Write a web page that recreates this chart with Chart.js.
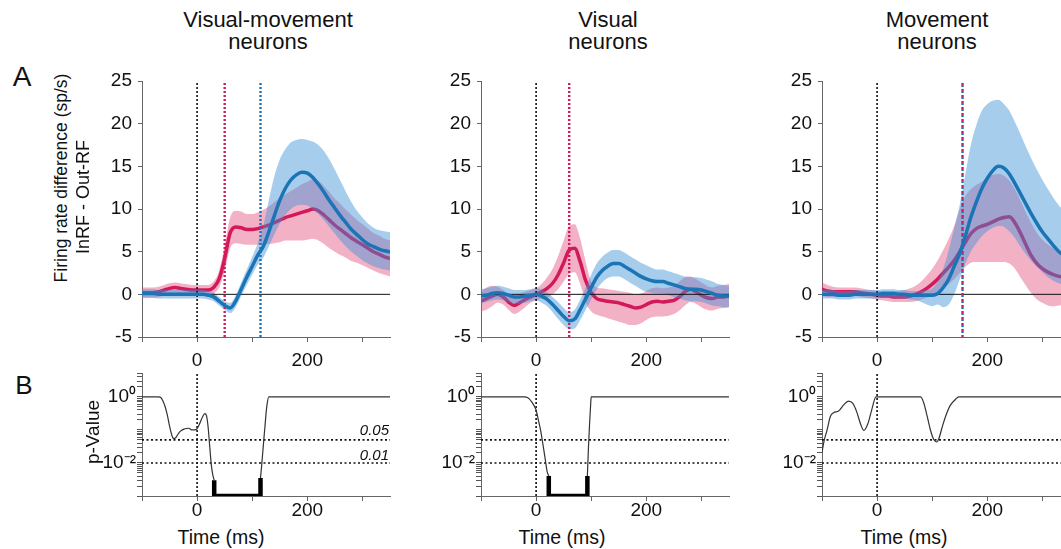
<!DOCTYPE html>
<html><head><meta charset="utf-8">
<script src="https://cdn.jsdelivr.net/npm/chart.js@4.4.0/dist/chart.umd.min.js"></script>
<style>
html,body{margin:0;padding:0;width:1061px;height:549px;overflow:hidden;background:#fff;font-family:"Liberation Sans",Arial,sans-serif;color:#111}
canvas{position:absolute}
.t{position:absolute;white-space:nowrap;line-height:1}
.c{transform:translateX(-50%)}
.r{transform:translate(-50%,-50%) rotate(-90deg)}
</style></head><body>
<canvas id="a1" width="318" height="316" style="left:92px;top:61px"></canvas>
<canvas id="a2" width="318" height="316" style="left:431px;top:61px"></canvas>
<canvas id="a3" width="318" height="316" style="left:772px;top:61px"></canvas>
<canvas id="b1" width="318" height="173" style="left:92px;top:353px"></canvas>
<canvas id="b2" width="318" height="173" style="left:431px;top:353px"></canvas>
<canvas id="b3" width="318" height="173" style="left:772px;top:353px"></canvas>

<div class="t c" style="left:268px;top:9px;font-size:22px">Visual-movement</div>
<div class="t c" style="left:268px;top:31px;font-size:22px">neurons</div>
<div class="t c" style="left:608px;top:9px;font-size:22px">Visual</div>
<div class="t c" style="left:608px;top:31px;font-size:22px">neurons</div>
<div class="t c" style="left:937px;top:9px;font-size:22px">Movement</div>
<div class="t c" style="left:937px;top:31px;font-size:22px">neurons</div>

<div class="t c" style="left:22px;top:63px;font-size:28px">A</div>
<div class="t c" style="left:24px;top:372px;font-size:26px">B</div>

<div class="t r" style="left:62px;top:178px;font-size:17.5px">Firing rate difference (sp/s)</div>
<div class="t r" style="left:83px;top:197px;font-size:18px">InRF - Out-RF</div>
<div class="t r" style="left:92px;top:432px;font-size:19px">p-Value</div>

<div class="t c" style="left:221px;top:528px;font-size:19.5px">Time (ms)</div>
<div class="t c" style="left:562px;top:528px;font-size:19.5px">Time (ms)</div>
<div class="t c" style="left:904px;top:528px;font-size:19.5px">Time (ms)</div>

<div class="t" style="right:672px;top:422px;font-size:15px;font-style:italic">0.05</div>
<div class="t" style="right:672px;top:447px;font-size:15px;font-style:italic">0.01</div>

<script>
// ---------- data ----------
const T = [-100,-90,-80,-70,-60,-50,-40,-30,-20,-10,0,10,20,30,40,50,60,70,80,90,100,110,120,130,140,150,160,170,180,190,200,210,220,230,240,250,260,270,280,290,300,310,320,330,340,350];

// Visual-movement neurons
const vmPinkMean = [0.2,0.2,0.2,0.3,0.5,0.7,0.8,0.7,0.6,0.5, 0.5,0.5,0.5,0.8,1.8,4.2,7.2,7.9,7.8,7.6, 7.6,7.7,7.9,8.1,8.4,8.7,9.0,9.2,9.4,9.6, 9.8,10.0,9.8,9.3,8.7,8.1,7.6,7.1,6.6,6.2, 5.8,5.4,5.0,4.7,4.4,4.2];
const vmPinkLo = [-0.4,-0.4,-0.4,-0.3,-0.1,0.1,0.2,0.1,0.0,-0.1, -0.1,-0.1,-0.1,0.1,0.8,2.7,5.4,6.0,5.9,5.8, 5.8,5.8,5.9,5.9,6.0,6.1,6.3,6.3,6.3,6.3, 6.4,6.5,6.3,5.9,5.4,5.0,4.6,4.3,3.9,3.7, 3.4,3.1,2.8,2.5,2.3,2.1];
const vmPinkHi = [0.8,0.8,0.8,0.9,1.1,1.3,1.4,1.3,1.2,1.1, 1.1,1.1,1.1,1.5,2.8,5.7,9.0,9.8,9.7,9.4, 9.4,9.6,9.9,10.3,10.8,11.3,11.7,12.1,12.5,12.9, 13.2,13.5,13.3,12.7,12.0,11.2,10.6,9.9,9.3,8.7, 8.2,7.7,7.2,6.9,6.5,6.3];
const vmBlueMean = [0.1,0.1,0.1,0.0,0.0,0.0,0.0,0.0,0.0,0.0, 0.0,0.0,-0.1,-0.3,-0.8,-1.3,-1.6,-0.8,0.6,2.0, 3.3,4.6,5.6,7.3,9.2,11.0,12.4,13.4,14.0,14.3, 14.2,13.7,12.9,12.0,11.0,10.1,9.2,8.4,7.6,7.0, 6.4,5.9,5.6,5.3,5.1,5.0];
const vmBlueLo = [-0.4,-0.4,-0.4,-0.5,-0.5,-0.5,-0.5,-0.5,-0.5,-0.5, -0.5,-0.5,-0.6,-0.8,-1.3,-1.8,-2.2,-1.5,-0.2,1.1, 2.3,3.5,4.3,5.6,7.0,8.3,9.3,10.0,10.4,10.5, 10.4,10.0,9.4,8.7,7.9,7.1,6.3,5.6,5.0,4.5, 4.0,3.6,3.3,3.1,2.9,2.8];
const vmBlueHi = [0.6,0.6,0.6,0.5,0.5,0.5,0.5,0.5,0.5,0.5, 0.5,0.5,0.4,0.2,-0.3,-0.8,-1.0,-0.1,1.4,2.9, 4.4,6.0,8.0,11.0,13.8,15.8,17.0,17.8,18.1,18.2, 18.1,17.9,17.5,16.8,15.8,14.6,13.3,12.0,10.8,9.8, 9.0,8.3,7.8,7.5,7.4,7.3];
const vmMarkers = [0, 50, 115];

// Visual neurons
const visPinkMean = [-0.8,-0.5,-0.2,0.0,-0.3,-0.9,-1.3,-1.0,-0.6,-0.3, 0.0,0.3,0.7,1.3,2.3,3.7,5.2,5.4,3.8,1.6, 0.2,-0.5,-0.7,-0.8,-0.9,-1.0,-1.2,-1.4,-1.6,-1.5, -1.2,-0.9,-0.8,-0.9,-0.8,-0.7,-0.3,0.3,0.6,0.3, -0.1,-0.4,-0.5,-0.3,-0.3,-0.2];
const visPinkLo = [-2.0,-1.8,-1.4,-1.0,-1.2,-1.8,-2.3,-2.0,-1.5,-1.0, -0.7,-0.5,-0.4,0.0,0.6,1.5,2.4,2.6,1.2,-1.0, -2.0,-2.4,-2.6,-2.8,-3.0,-3.2,-3.4,-3.6,-3.6,-3.4, -3.0,-2.7,-2.6,-2.6,-2.5,-2.3,-1.9,-1.3,-0.9,-1.1, -1.5,-1.8,-1.9,-1.7,-1.6,-1.5];
const visPinkHi = [0.3,0.8,1.0,0.9,0.5,0.0,-0.3,0.0,0.3,0.5, 0.7,1.2,2.0,3.0,4.5,6.3,8.0,8.2,6.5,3.8, 1.5,0.8,0.7,0.6,0.5,0.4,0.3,0.2,0.0,0.1, 0.4,0.7,0.8,0.7,0.8,1.0,1.5,2.0,2.1,1.8, 1.4,1.0,0.8,1.0,1.1,1.2];
const visBlueMean = [-0.2,-0.1,0.1,0.2,0.1,-0.1,-0.3,-0.3,-0.2,-0.1, 0.0,-0.2,-0.6,-1.2,-1.9,-2.6,-3.1,-2.9,-1.8,-0.5, 0.8,2.0,2.8,3.3,3.6,3.6,3.3,2.9,2.5,2.1, 1.8,1.6,1.5,1.5,1.3,1.1,0.9,0.7,0.6,0.6, 0.5,0.3,0.1,-0.1,-0.2,-0.2];
const visBlueLo = [-1.0,-0.9,-0.7,-0.6,-0.7,-0.9,-1.1,-1.1,-1.0,-0.8, -0.7,-1.0,-1.4,-2.1,-2.9,-3.6,-4.1,-4.0,-3.0,-1.8, -0.6,0.6,1.4,1.9,2.1,2.1,1.8,1.4,1.0,0.6, 0.3,0.2,0.1,0.1,-0.1,-0.3,-0.5,-0.7,-0.8,-0.8, -0.9,-1.1,-1.3,-1.4,-1.5,-1.5];
const visBlueHi = [0.6,0.7,0.9,1.0,0.9,0.7,0.5,0.5,0.5,0.6, 0.7,0.6,0.2,-0.3,-0.9,-1.6,-2.1,-1.8,-0.6,0.8, 2.3,3.6,4.4,4.9,5.2,5.2,4.9,4.5,4.1,3.7, 3.4,3.1,2.9,2.9,2.7,2.5,2.3,2.1,2.0,2.0, 1.9,1.7,1.5,1.2,1.1,1.0];
const visMarkers = [0, 60];

// Movement neurons
const movPinkMean = [0.6,0.4,0.3,0.3,0.3,0.3,0.3,0.2,0.1,0.0, -0.1,-0.2,-0.2,-0.3,-0.3,-0.3,-0.2,0.0,0.3,0.7, 1.2,1.8,2.5,3.2,4.0,5.0,6.1,7.1,7.7,8.0, 8.2,8.5,8.8,9.0,9.1,8.4,7.2,5.8,4.5,3.6, 3.0,2.6,2.3,2.1,2.0,1.9];
const movPinkLo = [-0.2,-0.3,-0.3,-0.3,-0.3,-0.2,-0.2,-0.3,-0.4,-0.5, -0.6,-0.7,-0.8,-0.9,-0.9,-0.9,-0.9,-0.8,-0.6,-0.4, -0.2,0.2,0.7,1.2,1.8,2.5,3.2,3.7,3.8,3.8, 3.8,3.8,3.8,3.8,3.6,3.0,2.0,1.0,0.1,-0.6, -1.0,-1.3,-1.4,-1.3,-1.2,-1.1];
const movPinkHi = [1.4,1.1,0.9,0.8,0.8,0.8,0.8,0.7,0.6,0.5, 0.4,0.4,0.4,0.4,0.4,0.5,0.7,1.0,1.5,2.2, 3.0,4.0,5.2,6.5,8.0,10.0,11.5,12.3,12.8,13.2, 13.7,14.0,14.1,13.9,13.3,12.3,11.0,9.6,8.3,7.2, 6.4,5.8,5.4,5.1,5.0,4.9];
const movBlueMean = [0.0,0.0,0.0,-0.1,-0.1,-0.1,0.0,0.0,0.0,0.0, 0.0,0.1,0.1,0.1,0.0,0.0,-0.1,-0.1,-0.1,-0.1, -0.1,0.1,0.8,1.8,3.3,4.8,6.8,9.0,10.8,12.4, 13.6,14.5,15.0,14.8,14.1,13.0,11.8,10.6,9.4,8.3, 7.3,6.5,5.7,5.0,4.5,4.0];
const movBlueLo = [-0.5,-0.5,-0.5,-0.6,-0.6,-0.6,-0.5,-0.5,-0.5,-0.5, -0.5,-0.4,-0.4,-0.4,-0.5,-0.5,-0.6,-0.7,-0.9,-1.2, -1.4,-1.2,-1.5,-1.2,0.0,1.8,3.6,5.0,6.0,6.8, 7.4,7.8,8.0,7.9,7.4,6.6,5.6,4.7,3.9,3.2, 2.6,2.0,1.6,1.3,1.1,0.9];
const movBlueHi = [0.5,0.5,0.5,0.4,0.4,0.4,0.5,0.5,0.5,0.5, 0.5,0.6,0.6,0.6,0.5,0.5,0.4,0.4,0.4,0.5, 0.7,1.5,3.0,5.2,7.8,10.5,14.0,17.5,19.8,21.5, 22.3,22.7,22.8,22.3,21.5,20.2,18.8,17.3,15.9,14.6, 13.4,12.3,11.3,10.4,9.7,9.2];
const movMarkers = [0, 155];

// p-values (B)
const vmPT  = [-100,-70,-66,-62,-58,-54,-50,-46,-43,-40,-36,-32,-28,-24,-20,-15,-10,-5,0,5,10,14,17,20,23,26,29,31];
const vmPV  = [1,1,0.95,0.75,0.5,0.28,0.13,0.07,0.055,0.056,0.068,0.085,0.098,0.105,0.11,0.112,0.1,0.1,0.11,0.16,0.25,0.31,0.27,0.12,0.03,0.008,0.004,0.003];
const vmPT2 = [115,117,119,121,123,125,127,130,350];
const vmPV2 = [0.0035,0.008,0.02,0.05,0.12,0.3,0.6,1,1];
const vmSigT = [31,31,115,115];
const vmSigV = [0.003,0.001,0.001,0.0035];

const visPT  = [-100,-20,-16,-12,-8,-4,0,4,8,12,16,20,23];
const visPV  = [1,1,0.95,0.85,0.7,0.55,0.4,0.2,0.1,0.04,0.015,0.0055,0.004];
const visPT2 = [93,95,97,99,100,350];
const visPV2 = [0.004,0.03,0.15,0.6,1,1];
const visSigT = [23,23,93,93];
const visSigV = [0.004,0.001,0.001,0.004];

const movPT = [-100,-96,-91,-85,-79,-70,-61,-52,-44,-37,-30,-24,-17,-10,-2,0,79,85,91,97,103,108,112,118,124,133,142,148,350];
const movPV = [0.021,0.048,0.096,0.25,0.33,0.37,0.56,0.74,0.63,0.35,0.15,0.096,0.15,0.39,1,1,1,0.63,0.25,0.096,0.05,0.043,0.054,0.12,0.25,0.56,0.83,1,1];

const thresholds = [0.05, 0.01];

// axes
const xRange = [-100, 350];
const xTicks = [-100, 0, 100, 200, 300];
const xLabeled = [0, 200];
const yRange = [-5, 25];
const yTicks = [-5, 0, 5, 10, 15, 20, 25];
const pRange = [0.001, 5.25];
const pTicks = [0.001,0.002,0.003,0.004,0.005,0.006,0.007,0.008,0.009,0.01,0.02,0.03,0.04,0.05,0.06,0.07,0.08,0.09,0.1,0.2,0.3,0.4,0.5,0.6,0.7,0.8,0.9,1,2,3,4,5];
const pLabels = {'1': '10\u2070', '0.01': '10\u207B\u00B2'};

// ---------- drawing ----------
const FONT = '"Liberation Sans", Arial, sans-serif';
const PINK = '#d21a5b', BLUE = '#1b74b6';
const PINK_FILL = 'rgba(226,70,120,0.42)', BLUE_FILL = 'rgba(60,145,212,0.45)';
const AXIS = '#666';
const xy = (xs, ys) => xs.map((x, i) => ({x, y: ys[i]}));
const curve = {cubicInterpolationMode: 'monotone', pointRadius: 0};
const straight = {tension: 0, cubicInterpolationMode: 'default', pointRadius: 0};

function xScale(pad, tl, h) {
  return {
    type: 'linear', min: xRange[0], max: xRange[1], bounds: 'data',
    afterBuildTicks: s => { s.ticks = xTicks.map(v => ({value: v})); },
    afterFit: s => { s.height = h; },
    ticks: {autoSkip: false, maxRotation: 0, padding: pad, color: '#111', font: {size: 19, family: FONT},
      callback: v => xLabeled.includes(v) ? String(v) : ''},
    grid: {drawOnChartArea: false, tickLength: tl, color: AXIS},
    border: {color: AXIS, width: 1}
  };
}
function baseOpts(scales) {
  return {
    responsive: false, animation: false, events: [],
    layout: {padding: {top: 20, right: 20, left: 0, bottom: 0}},
    plugins: {legend: {display: false}, tooltip: {enabled: false}},
    scales
  };
}

function topPanel(id, d) {
  const ds = [
    {...curve, data: xy(T, d.pLo), borderWidth: 0, fill: false, order: 9},
    {...curve, data: xy(T, d.pHi), borderWidth: 0, fill: '-1', backgroundColor: PINK_FILL, order: 8},
    {...curve, data: xy(T, d.pMean), borderColor: PINK, borderWidth: 3.5, fill: false, order: 7},
    {...curve, data: xy(T, d.bLo), borderWidth: 0, fill: false, order: 6},
    {...curve, data: xy(T, d.bHi), borderWidth: 0, fill: '-1', backgroundColor: BLUE_FILL, order: 5},
    {...straight, data: xy(xRange, [0, 0]), borderColor: '#111', borderWidth: 1, fill: false, order: 4}
  ];
  d.markers.forEach((m, i) => {
    if (i === 0) {
      ds.push({...straight, data: xy([m, m], yRange), borderColor: '#111', borderWidth: 1.6, borderDash: [2, 2], fill: false, order: 3});
    } else {
      const cols = d.markerCols[i - 1];
      cols.forEach((c, k) => ds.push({...straight, data: xy([m, m], yRange), borderColor: c, borderWidth: 2.4,
        borderDash: cols.length > 1 ? [2, 4] : [2, 2], borderDashOffset: k * 2, fill: false, order: 3}));
    }
  });
  ds.push({...curve, data: xy(T, d.bMean), borderColor: BLUE, borderWidth: 3.5, fill: false, order: 1});
  new Chart(document.getElementById(id), {
    type: 'line', data: {datasets: ds},
    options: baseOpts({
      x: xScale(7, 5, 40),
      y: {
        type: 'linear', min: yRange[0], max: yRange[1], bounds: 'data',
        afterBuildTicks: s => { s.ticks = yTicks.map(v => ({value: v})); },
        afterFit: s => { s.width = 50; },
        ticks: {autoSkip: false, padding: 6, color: '#111', font: {size: 19, family: FONT}, callback: v => String(v)},
        grid: {drawOnChartArea: false, tickLength: 4, color: AXIS},
        border: {color: AXIS, width: 1}
      }
    })
  });
}

function bottomPanel(id, segs, sig) {
  const ds = [];
  thresholds.forEach(th => ds.push({...straight, data: xy(xRange, [th, th]), borderColor: '#111', borderWidth: 1.6, borderDash: [2, 2.5], fill: false, order: 5}));
  ds.push({...straight, data: xy([0, 0], pRange), borderColor: '#111', borderWidth: 1.6, borderDash: [2, 2], fill: false, order: 4});
  segs.forEach(s => ds.push({...curve, data: xy(s[0], s[1]), borderColor: '#333', borderWidth: 1.2, fill: false, order: 2}));
  if (sig) ds.push({...straight, data: xy(sig[0], sig[1]), borderColor: '#000', borderWidth: 4.5, borderCapStyle: 'butt', borderJoinStyle: 'miter', fill: false, order: 1});
  new Chart(document.getElementById(id), {
    type: 'line', data: {datasets: ds},
    options: baseOpts({
      x: xScale(-2, 5, 30),
      y: {
        type: 'logarithmic', min: pRange[0], max: pRange[1], bounds: 'data',
        afterBuildTicks: s => { s.ticks = pTicks.map(v => ({value: v})); },
        afterFit: s => { s.width = 50; },
        ticks: {autoSkip: false, padding: 1, color: '#111', font: {size: 19, family: FONT},
          callback: v => pLabels[String(v)] || ''},
        grid: {drawOnChartArea: false, tickLength: 5, color: '#555', lineWidth: 1},
        border: {color: AXIS, width: 1}
      }
    })
  });
}

topPanel('a1', {pMean: vmPinkMean, pLo: vmPinkLo, pHi: vmPinkHi, bMean: vmBlueMean, bLo: vmBlueLo, bHi: vmBlueHi,
  markers: vmMarkers, markerCols: [[PINK], [BLUE]]});
topPanel('a2', {pMean: visPinkMean, pLo: visPinkLo, pHi: visPinkHi, bMean: visBlueMean, bLo: visBlueLo, bHi: visBlueHi,
  markers: visMarkers, markerCols: [[PINK]]});
topPanel('a3', {pMean: movPinkMean, pLo: movPinkLo, pHi: movPinkHi, bMean: movBlueMean, bLo: movBlueLo, bHi: movBlueHi,
  markers: movMarkers, markerCols: [[PINK, BLUE]]});

bottomPanel('b1', [[vmPT, vmPV], [vmPT2, vmPV2]], [vmSigT, vmSigV]);
bottomPanel('b2', [[visPT, visPV], [visPT2, visPV2]], [visSigT, visSigV]);
bottomPanel('b3', [[movPT, movPV]], null);
</script>
</body></html>
